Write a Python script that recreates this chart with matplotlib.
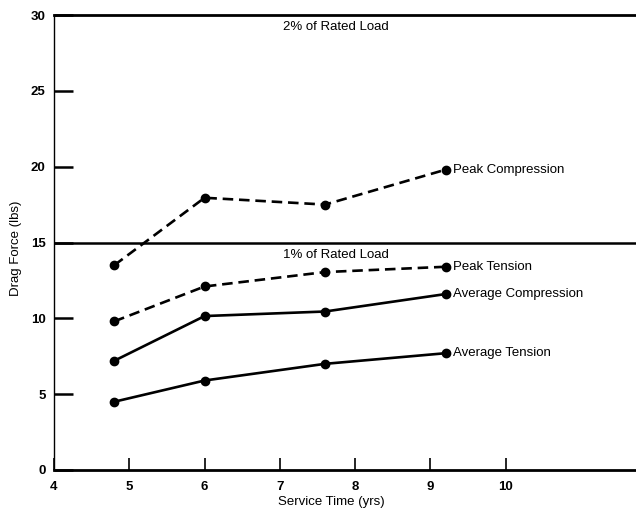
import matplotlib
matplotlib.use("Agg")
import matplotlib.pyplot as plt

plt.rcParams['font.family'] = ['Liberation Sans', 'DejaVu Sans']

service_time = [4.8, 6.0, 7.6, 9.2]
peak_compression = [13.5, 17.95, 17.5, 19.8]
peak_tension = [9.8, 12.1, 13.05, 13.4]
avg_compression = [7.2, 10.15, 10.45, 11.6]
avg_tension = [4.5, 5.9, 7.0, 7.7]

series = [
    ("Peak Compression", peak_compression, (0, (4, 2.2))),
    ("Peak Tension", peak_tension, (0, (4, 2.2))),
    ("Average Compression", avg_compression, "-"),
    ("Average Tension", avg_tension, "-"),
]

x_ticks = [4, 5, 6, 7, 8, 9, 10]
y_ticks = [0, 5, 10, 15, 20, 25, 30]

fig = plt.figure(figsize=(6.36, 5.12), dpi=100)
ax = fig.add_axes([54/636, 42/512, 1 - 54/636, (470-15)/512])

for name, vals, ls in series:
    ax.plot(service_time, vals, color="black", lw=1.9, linestyle=ls,
            marker="o", markersize=6, clip_on=False)
    ax.text(service_time[-1] + 0.1, vals[-1], name, fontsize=9.5,
            va="center", ha="left")

ax.axhline(15, color="black", lw=1.8)
ax.text(7.75, 29.6, "2% of Rated Load", fontsize=9.5, ha="center", va="top")
ax.text(7.75, 14.6, "1% of Rated Load", fontsize=9.5, ha="center", va="top")

ax.set_xlim(4, 11.73)
ax.set_ylim(0, 30)
ax.set_xticks(x_ticks)
ax.set_yticks(y_ticks)
ax.tick_params(axis="x", direction="in", length=9, width=1.2, pad=8, labelsize=9.5)
ax.tick_params(axis="y", direction="in", length=14, width=1.8, pad=6, labelsize=9.5)
for lbl in ax.get_xticklabels() + ax.get_yticklabels():
    lbl.set_fontweight("bold")

ax.spines["right"].set_visible(False)
ax.spines["top"].set_linewidth(2.0)
ax.spines["bottom"].set_linewidth(2.0)
ax.spines["left"].set_linewidth(1.0)

ax.set_xlabel("Service Time (yrs)", fontsize=9.5)
ax.set_ylabel("Drag Force (lbs)", fontsize=9.5)
ax.xaxis.set_label_coords((331-54)/582, -0.058)
ax.yaxis.set_label_coords(-0.055, 0.488)

fig.savefig("out.png", dpi=100)
